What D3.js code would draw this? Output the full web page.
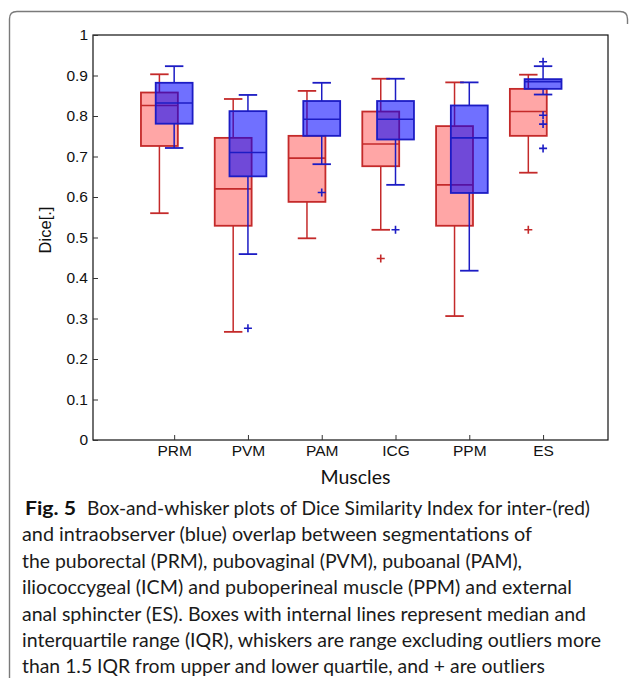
<!DOCTYPE html>
<html>
<head>
<meta charset="utf-8">
<script src="https://cdn.jsdelivr.net/npm/d3@7"></script>
<style>
  html, body { margin: 0; padding: 0; background: #fff; }
  svg { display: block; }
</style>
</head>
<body>
<svg id="chart" width="629" height="685"></svg>
<script>
// ---------------- DATA ----------------
const categories = ["PRM", "PVM", "PAM", "ICG", "PPM", "ES"];

// inter-observer (red): whisker low, Q1, median, Q3, whisker high
const interLow  = [0.560, 0.267, 0.498, 0.519, 0.306, 0.660];
const interQ1   = [0.726, 0.529, 0.588, 0.676, 0.529, 0.751];
const interMed  = [0.826, 0.620, 0.696, 0.731, 0.630, 0.811];
const interQ3   = [0.858, 0.746, 0.751, 0.811, 0.775, 0.867];
const interHigh = [0.903, 0.842, 0.862, 0.892, 0.883, 0.902];
const interOutliers = [["ICG", 0.448], ["ES", 0.519]];

// intra-observer (blue)
const intraLow  = [0.721, 0.459, 0.681, 0.630, 0.418, 0.853];
const intraQ1   = [0.781, 0.651, 0.751, 0.742, 0.610, 0.867];
const intraMed  = [0.832, 0.710, 0.792, 0.792, 0.746, 0.885];
const intraQ3   = [0.882, 0.812, 0.837, 0.837, 0.826, 0.891];
const intraHigh = [0.923, 0.852, 0.882, 0.892, 0.883, 0.923];
const intraOutliers = [["PVM", 0.276], ["PAM", 0.611], ["ICG", 0.519],
                       ["ES", 0.934], ["ES", 0.802], ["ES", 0.780], ["ES", 0.720]];

const yTicks = [0, 0.1, 0.2, 0.3, 0.4, 0.5, 0.6, 0.7, 0.8, 0.9, 1];
const yTickLabels = ["0", "0.1", "0.2", "0.3", "0.4", "0.5", "0.6", "0.7", "0.8", "0.9", "1"];

const captionLines = [
  "Box-and-whisker plots of Dice Similarity Index for inter-(red)",
  "and intraobserver (blue) overlap between segmentations of",
  "the puborectal (PRM), pubovaginal (PVM), puboanal (PAM),",
  "iliococcygeal (ICM) and puboperineal muscle (PPM) and external",
  "anal sphincter (ES). Boxes with internal lines represent median and",
  "interquartile range (IQR), whiskers are range excluding outliers more",
  "than 1.5 IQR from upper and lower quartile, and + are outliers"
];
const captionEnds = [590, 532, 522, 572, 586, 601, 545];

// ---------------- LAYOUT ----------------
const svg = d3.select("#chart");
const plot = { left: 93, right: 608, top: 35, bottom: 440 };

const x = d3.scaleLinear().domain([-0.1, 6.88]).range([plot.left, plot.right]);
const y = d3.scaleLinear().domain([0, 1]).range([plot.bottom, plot.top]);
const idx = c => categories.indexOf(c) + 1;

// outer figure frame
svg.append("path")
  .attr("d", "M9.5,678 V19 Q9.5,11.5 17,11.5 H620 Q627.5,11.5 627.5,19 V24")
  .attr("fill", "none").attr("stroke", "#7a7a7a").attr("stroke-width", 1.4);

// ---------------- BOXES ----------------
const boxW = 0.5, capW = 0.25;
function drawSeries(g, offset, low, q1, med, q3, high, outliers, fill, fillOp, stroke) {
  const data = categories.map((c, i) => ({ i: i + 1, low: low[i], q1: q1[i], med: med[i], q3: q3[i], high: high[i] }));
  const grp = g.append("g");
  const item = grp.selectAll("g").data(data).join("g");
  item.append("line")
    .attr("x1", d => x(d.i + offset)).attr("x2", d => x(d.i + offset))
    .attr("y1", d => y(d.q3)).attr("y2", d => y(d.high))
    .attr("stroke", stroke).attr("stroke-width", 1.5);
  item.append("line")
    .attr("x1", d => x(d.i + offset)).attr("x2", d => x(d.i + offset))
    .attr("y1", d => y(d.q1)).attr("y2", d => y(d.low))
    .attr("stroke", stroke).attr("stroke-width", 1.5);
  ["high", "low"].forEach(k => {
    item.append("line")
      .attr("x1", d => x(d.i + offset - capW / 2)).attr("x2", d => x(d.i + offset + capW / 2))
      .attr("y1", d => y(d[k])).attr("y2", d => y(d[k]))
      .attr("stroke", stroke).attr("stroke-width", 1.8);
  });
  item.append("rect")
    .attr("x", d => x(d.i + offset - boxW / 2))
    .attr("width", d => x(d.i + offset + boxW / 2) - x(d.i + offset - boxW / 2))
    .attr("y", d => y(d.q3))
    .attr("height", d => y(d.q1) - y(d.q3))
    .attr("fill", fill).attr("fill-opacity", fillOp)
    .attr("stroke", stroke).attr("stroke-width", 1.8);
  item.append("line")
    .attr("x1", d => x(d.i + offset - boxW / 2)).attr("x2", d => x(d.i + offset + boxW / 2))
    .attr("y1", d => y(d.med)).attr("y2", d => y(d.med))
    .attr("stroke", stroke).attr("stroke-width", 1.6);
  const s = 4;
  grp.selectAll("path.out").data(outliers).join("path")
    .attr("class", "out")
    .attr("d", d => {
      const cx = x(idx(d[0]) + offset), cy = y(d[1]);
      return `M${cx - s},${cy}H${cx + s}M${cx},${cy - s}V${cy + s}`;
    })
    .attr("stroke", stroke).attr("stroke-width", 1.6).attr("fill", "none");
}

const g = svg.append("g");
drawSeries(g, -0.2, interLow, interQ1, interMed, interQ3, interHigh, interOutliers, "#ff0000", 0.35, "#c42a2a");
drawSeries(g, 0, intraLow, intraQ1, intraMed, intraQ3, intraHigh, intraOutliers, "#0000ff", 0.56, "#1c1cc4");

// ---------------- AXES ----------------
svg.append("rect")
  .attr("x", plot.left).attr("y", plot.top)
  .attr("width", plot.right - plot.left).attr("height", plot.bottom - plot.top)
  .attr("fill", "none").attr("stroke", "#111").attr("stroke-width", 1.2);

const yAxis = svg.append("g")
  .attr("transform", `translate(${plot.left},0)`)
  .call(d3.axisLeft(y).tickValues(yTicks).tickFormat((d, i) => yTickLabels[i]).tickSize(-5).tickPadding(5));
yAxis.select(".domain").remove();
yAxis.selectAll("text").attr("font-family", "Liberation Sans, Arial, sans-serif").attr("font-size", 15.5).attr("fill", "#111");
yAxis.selectAll("line").attr("stroke", "#333");

const xAxis = svg.append("g")
  .attr("transform", `translate(0,${plot.bottom})`)
  .call(d3.axisBottom(x).tickValues(categories.map((c, i) => i + 1)).tickFormat(d => categories[d - 1]).tickSize(-5).tickPadding(5));
xAxis.select(".domain").remove();
xAxis.selectAll("text").attr("font-family", "Liberation Sans, Arial, sans-serif").attr("font-size", 15.5).attr("fill", "#111");
xAxis.selectAll("line").attr("stroke", "#333");

// axis titles
svg.append("text")
  .attr("x", (plot.left + plot.right) / 2 + 5).attr("y", 484)
  .attr("text-anchor", "middle")
  .attr("font-family", "Lato, sans-serif").attr("font-size", 19.5).attr("fill", "#111")
  .text("Muscles");

svg.append("text")
  .attr("transform", "translate(51,230) rotate(-90)")
  .attr("text-anchor", "middle")
  .attr("font-family", "Liberation Sans, Arial, sans-serif").attr("font-size", 16.5).attr("fill", "#111")
  .text("Dice[.]");

// ---------------- CAPTION ----------------
const capX = 22, capY0 = 515, capDy = 26.4;
svg.append("text")
  .attr("x", 25).attr("y", capY0)
  .attr("font-family", "Lato, sans-serif").attr("font-weight", 700)
  .attr("font-size", 19).attr("fill", "#111")
  .attr("textLength", 51).attr("lengthAdjust", "spacingAndGlyphs")
  .text("Fig. 5");

captionLines.forEach((t, i) => {
  const x0 = i === 0 ? 87 : capX;
  svg.append("text")
    .attr("x", x0).attr("y", capY0 + i * capDy)
    .attr("font-family", "Lato, sans-serif")
    .attr("font-size", 19).attr("fill", "#1a1a1a")
    .attr("textLength", captionEnds[i] - x0).attr("lengthAdjust", "spacingAndGlyphs")
    .text(t);
});
</script>
</body>
</html>
